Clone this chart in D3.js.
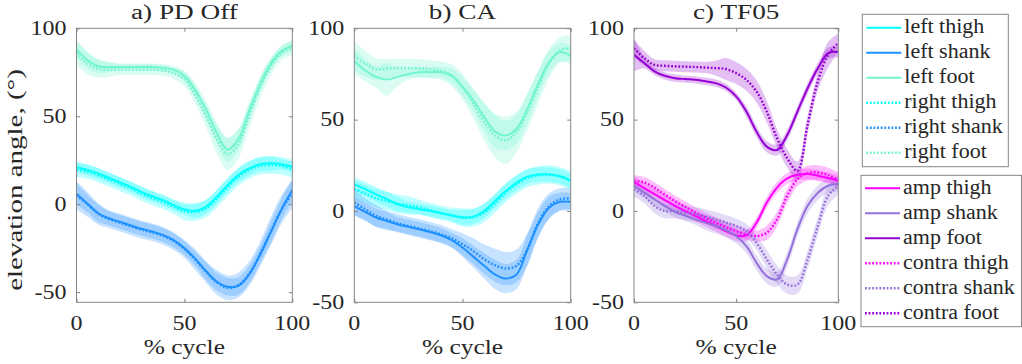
<!DOCTYPE html>
<html>
<head>
<meta charset="utf-8">
<script src="https://cdn.jsdelivr.net/npm/d3@7"></script>
<style>
  body { margin: 0; background: #fff; }
  svg { display: block; }
</style>
</head>
<body>
<div id="chart"></div>
<script>
// % of gait cycle, sampled every 5%
const cycle = [0,5,10,15,20,25,30,35,40,45,50,55,60,65,70,75,80,85,90,95,100];
const xTicks = [0, 50, 100];
const yTicks = [-50, 0, 50, 100];
const titles = ["a) PD Off", "b) CA", "c) TF05"];

// a) PD Off
const aLeftThigh  = [21,19.5,17.5,15,12.5,10,7,4.5,2.3,-0.5,-3,-3.8,-1.5,4.2,10.8,16.5,20.3,22.7,23.2,22.7,21.2];
const aRightThigh = [19.5,18.5,16.5,14,11.5,9,6,3.5,1.3,-1.5,-4,-4.5,-2.5,3,9.5,15.5,19.5,21.8,22.3,21.8,20];
const aLeftShank  = [6,0.4,-5,-8,-10,-12,-14,-15.5,-17.5,-20.5,-25,-31,-38,-44,-47,-46.5,-40,-29,-16,-3,8];
const aRightShank = [5,0,-5.5,-8.5,-10.5,-12.5,-14.5,-16,-18,-21,-25.5,-31.5,-38.5,-44.5,-47.5,-46,-39.5,-28.5,-15.5,-3,6];
const aLeftFoot   = [88,82,78.5,78,78,78,78,78,77.5,76.5,73,65,54,40.5,31,37,53,68,80,87,90];
const aRightFoot  = [86,80,77,76.5,76.5,76.5,76.5,76.5,76,74.5,71,62,50,37,28.5,34,50,66,78,86,89];
const aLeftThighSd  = [3,3,3,3,3,3,3,3,3,3,3,4,4,4,4,4,4,4,4,3,3];
const aRightThighSd = [4,4,4,4,4,4,4,4,4,4,5,5,5,5,5,5,5,5,5,5,5];
const aLeftShankSd  = [6,5,5,4,4,4,4,4,4,4,4,4,5,5,5,5,5,5,6,6,6];
const aRightShankSd = [8,7,6,5,5,5,5,5,5,5,5,6,6,7,7,7,7,7,8,8,8];
const aLeftFootSd   = [5,5,4,3,2,2,2,2,2,2,3,4,5,6,7,6,5,4,3,3,3];
const aRightFootSd  = [7,6,5,4,3,3,3,3,3,3,4,5,6,8,9,8,7,6,5,4,4];

// b) CA
const bLeftThigh  = [14.6,12,9.1,6.5,3.7,2,1,0,-1.3,-2.5,-3.6,-3.1,0,5.5,10.9,15.5,18.8,20,20,19,16.4];
const bRightThigh = [12,9.5,7,5.5,4,3,2,0.5,-1,-2.3,-3.5,-3.5,-1,4,10,14.5,18,19.5,20,19,17];
const bLeftShank  = [2.7,-0.5,-3.6,-5.5,-7.3,-8.7,-10,-11.5,-13.3,-16,-20,-25,-30,-34.7,-37,-34.7,-21,-7.3,1.8,5,5];
const bRightShank = [4.6,1,-2.7,-4.7,-6.7,-8.2,-9.6,-11,-12.7,-15,-18.2,-22,-26.4,-29.7,-31.5,-30,-21,-6.4,2.7,6.4,6.8];
const bLeftFoot   = [82,77,73.4,72,73.4,75,76,76,76,74,68,60.6,51.5,43.6,41.4,45,56,69.7,81.5,87,85];
const bRightFoot  = [85,80.7,77.6,78,78.3,78.3,78,77.6,76.7,74.3,68,58.8,48.8,41.4,38.7,43.3,54.3,68,80.7,88,89];
const bLeftThighSd  = [4,4,4,4,4,3,3,3,3,3,4,4,4,4,4,4,4,4,4,4,4];
const bRightThighSd = [5,5,5,5,5,5,4,4,4,4,5,5,5,5,5,5,5,5,5,5,5];
const bLeftShankSd  = [5,5,5,5,4,4,4,4,4,4,5,6,7,8,8,8,8,7,6,5,5];
const bRightShankSd = [7,6,6,5,5,5,5,5,5,5,6,7,8,9,9,9,9,8,7,6,6];
const bLeftFootSd   = [7,6,6,9,5,3,3,3,3,4,5,6,8,9,8,8,8,7,6,5,5];
const bRightFootSd  = [8,7,6,5,5,5,5,5,5,6,7,8,10,12,13,11,10,9,8,7,7];

// c) TF05
const cAmpThigh    = [16,12.5,9.2,6,2.8,0,-2.7,-5.5,-8.2,-11,-13.4,-13.4,-6.4,4.6,12.8,17.8,19.8,20.2,19.3,18,16.5];
const cContraThigh = [16.5,15.6,12.8,9,5.5,2.3,-0.9,-3.7,-6.4,-8.8,-11,-12.8,-13.7,-11.9,-4.6,8.3,17.4,20.7,21,19.6,17];
const cAmpShank    = [13.8,10,6.4,2.8,-0.5,-2.5,-4.6,-6.4,-8.2,-10.5,-13.7,-19.2,-28.4,-35.7,-37.5,-26.5,-10,2.8,10,13.8,14.7];
const cContraShank = [11.9,8.3,2.8,0,0,-1,-1.8,-3,-4.6,-6.3,-8.2,-11,-17.4,-26.5,-34.8,-40.3,-40.3,-26.5,-8.2,8.3,13.8];
const cAmpFoot     = [85.5,81,76.4,74,72.7,72.2,71.8,71,70,67.6,62.7,54.4,43.4,35.2,33.4,41.6,54.4,67.2,78.2,86.4,87];
const cContraFoot  = [89,83.7,80,79.5,79.2,79,78.8,78.5,78.2,77.7,75.5,71.8,65.4,54.4,39.8,28.8,22,47.4,71,85.5,92];
const cAmpThighSd    = [3,3,3,3,3,3,3,3,3,3,3,3,3,3,3,3,3,3,3,3,3];
const cContraThighSd = [3,3,3,3,3,3,3,3,3,3,3,3,3,4,4,4,4,4,4,4,4];
const cAmpShankSd    = [3,3,3,3,3,3,3,4,4,4,4,4,4,4,4,4,4,4,4,4,4];
const cContraShankSd = [4,4,4,4,4,4,4,4,4,4,4,4,4,5,5,5,5,5,5,5,5];
const cAmpFootSd     = [9,3,2,2,2,2,2,2,2,2,2,3,3,3,3,3,3,3,3,3,3];
const cContraFootSd  = [5,4,3,3,3,3,3,3,4,6,6,6,6,6,5,5,5,5,5,7,5];

const legend1 = ["left thigh", "left shank", "left foot", "right thigh", "right shank", "right foot"];
const legend2 = ["amp thigh", "amp shank", "amp foot", "contra thigh", "contra shank", "contra foot"];

const col = {
  thigh: "#00ffff", shank: "#1e90ff", foot: "#70f5d0",
  ampThigh: "#ff00ff", ampShank: "#9370db", ampFoot: "#9400d3"
};

const panels = [
  { title: titles[0], x0: 76.5, x1: 292.3, yMin: -55.8, series: [
    { m: aLeftThigh, sd: aLeftThighSd, c: col.thigh, dot: false },
    { m: aLeftShank, sd: aLeftShankSd, c: col.shank, dot: false },
    { m: aLeftFoot, sd: aLeftFootSd, c: col.foot, dot: false },
    { m: aRightThigh, sd: aRightThighSd, c: col.thigh, dot: true },
    { m: aRightShank, sd: aRightShankSd, c: col.shank, dot: true },
    { m: aRightFoot, sd: aRightFootSd, c: col.foot, dot: true }]},
  { title: titles[1], x0: 354.3, x1: 570.7, yMin: -50, series: [
    { m: bLeftThigh, sd: bLeftThighSd, c: col.thigh, dot: false },
    { m: bLeftShank, sd: bLeftShankSd, c: col.shank, dot: false },
    { m: bLeftFoot, sd: bLeftFootSd, c: col.foot, dot: false },
    { m: bRightThigh, sd: bRightThighSd, c: col.thigh, dot: true },
    { m: bRightShank, sd: bRightShankSd, c: col.shank, dot: true },
    { m: bRightFoot, sd: bRightFootSd, c: col.foot, dot: true }]},
  { title: titles[2], x0: 634, x1: 838.3, yMin: -50, series: [
    { m: cAmpThigh, sd: cAmpThighSd, c: col.ampThigh, dot: false },
    { m: cAmpShank, sd: cAmpShankSd, c: col.ampShank, dot: false },
    { m: cAmpFoot, sd: cAmpFootSd, c: col.ampFoot, dot: false },
    { m: cContraThigh, sd: cContraThighSd, c: col.ampThigh, dot: true },
    { m: cContraShank, sd: cContraShankSd, c: col.ampShank, dot: true },
    { m: cContraFoot, sd: cContraFootSd, c: col.ampFoot, dot: true }]}
];

const W = 1022, H = 364, plotTop = 28.3, plotBottom = 302.3;
const axisGrey = "#858585";
const serif = "'Liberation Serif', 'Times New Roman', serif";

const svg = d3.select("#chart").append("svg")
  .attr("width", W).attr("height", H);

// every label gets the serif face, then is widened to the original's stretched look
function label(parent) {
  return parent.append("text")
    .attr("font-family", serif).style("font-family", serif)
    .style("font-size", "20px").style("font-weight", "normal").attr("fill", "#262626");
}
function stretch(sel, k) {
  sel.each(function () {
    const w = this.getComputedTextLength();
    d3.select(this).attr("textLength", w * k).attr("lengthAdjust", "spacingAndGlyphs");
  });
}

panels.forEach((p, i) => {
  const x = d3.scaleLinear().domain([0, 100]).range([p.x0, p.x1]);
  const y = d3.scaleLinear().domain([p.yMin, 100]).range([plotBottom, plotTop]);
  const g = svg.append("g");

  g.append("clipPath").attr("id", "clip" + i)
    .append("rect").attr("x", p.x0).attr("y", plotTop)
    .attr("width", p.x1 - p.x0).attr("height", plotBottom - plotTop);

  const plot = g.append("g").attr("clip-path", `url(#clip${i})`);
  const curve = d3.curveCatmullRom.alpha(0.5);

  const area = s => d3.area()
    .x((d, j) => x(cycle[j]))
    .y0((d, j) => y(d - s.sd[j]))
    .y1((d, j) => y(d + s.sd[j]))
    .curve(curve)(s.m);
  const line = d3.line().x((d, j) => x(cycle[j])).y(d => y(d)).curve(curve);

  p.series.forEach(s => {
    plot.append("path").attr("d", area(s))
      .attr("fill", s.c).attr("fill-opacity", 0.25).attr("stroke", "none");
  });
  p.series.forEach(s => {
    plot.append("path").attr("d", line(s.m))
      .attr("fill", "none").attr("stroke", s.c)
      .attr("stroke-width", s.dot ? 2.4 : 2)
      .attr("stroke-dasharray", s.dot ? "1.8,1.8" : null);
  });

  // box with inward ticks on all four sides
  const tl = 3.5;
  g.append("g").attr("transform", `translate(0,${plotBottom})`)
    .call(d3.axisTop(x).tickValues(xTicks).tickSize(tl).tickFormat(""))
    .call(a => a.select(".domain").remove());
  g.append("g").attr("transform", `translate(0,${plotTop})`)
    .call(d3.axisBottom(x).tickValues(xTicks).tickSize(tl).tickFormat(""))
    .call(a => a.select(".domain").remove());
  g.append("g").attr("transform", `translate(${p.x0},0)`)
    .call(d3.axisRight(y).tickValues(yTicks).tickSize(tl).tickFormat(""))
    .call(a => a.select(".domain").remove());
  g.append("g").attr("transform", `translate(${p.x1},0)`)
    .call(d3.axisLeft(y).tickValues(yTicks).tickSize(tl).tickFormat(""))
    .call(a => a.select(".domain").remove());
  g.selectAll(".tick line").attr("stroke", axisGrey);
  g.append("rect").attr("x", p.x0).attr("y", plotTop)
    .attr("width", p.x1 - p.x0).attr("height", plotBottom - plotTop)
    .attr("fill", "none").attr("stroke", axisGrey).attr("stroke-width", 1);

  // tick labels
  yTicks.forEach(v => {
    const t = label(g).attr("x", p.x0 - 10).attr("y", y(v)).attr("dy", "0.34em")
      .attr("text-anchor", "end").text(v);
    stretch(t, 1.2);
  });
  xTicks.forEach(v => {
    const t = label(g).attr("x", x(v)).attr("y", 330)
      .attr("text-anchor", "middle").text(v);
    stretch(t, 1.2);
  });

  const t = label(g).attr("x", (p.x0 + p.x1) / 2).attr("y", 18.5)
    .attr("text-anchor", "middle").text(p.title);
  stretch(t, 1.36);
  const xt = label(g).attr("x", (p.x0 + p.x1) / 2).attr("y", 354)
    .attr("text-anchor", "middle").text("% cycle");
  stretch(xt, 1.27);
});

const yt = label(svg)
  .attr("transform", "translate(22,180) rotate(-90)")
  .attr("text-anchor", "middle")
  .text("elevation angle, (°)");
stretch(yt, 1.45);

// legends
function drawLegend(names, colors, bx, by, bw, bh, rowY) {
  const g = svg.append("g");
  g.append("rect").attr("x", bx).attr("y", by).attr("width", bw).attr("height", bh)
    .attr("fill", "#fff").attr("stroke", axisGrey).attr("stroke-width", 1);
  names.forEach((n, k) => {
    const cy = rowY + k * 25;
    g.append("line").attr("x1", bx + 4).attr("x2", bx + 39).attr("y1", cy).attr("y2", cy)
      .attr("stroke", colors[k % 3]).attr("stroke-width", k < 3 ? 2 : 2.4)
      .attr("stroke-dasharray", k < 3 ? null : "1.8,1.8");
    const t = label(g).attr("x", bx + 42).attr("y", cy + 5.7).text(n);
    stretch(t, 1.1);
  });
}
drawLegend(legend1, [col.thigh, col.shank, col.foot], 862.3, 14.3, 146, 152.4, 27.7);
drawLegend(legend2, [col.ampThigh, col.ampShank, col.ampFoot], 861, 175.3, 160.5, 151.4, 188.3);
</script>
</body>
</html>
